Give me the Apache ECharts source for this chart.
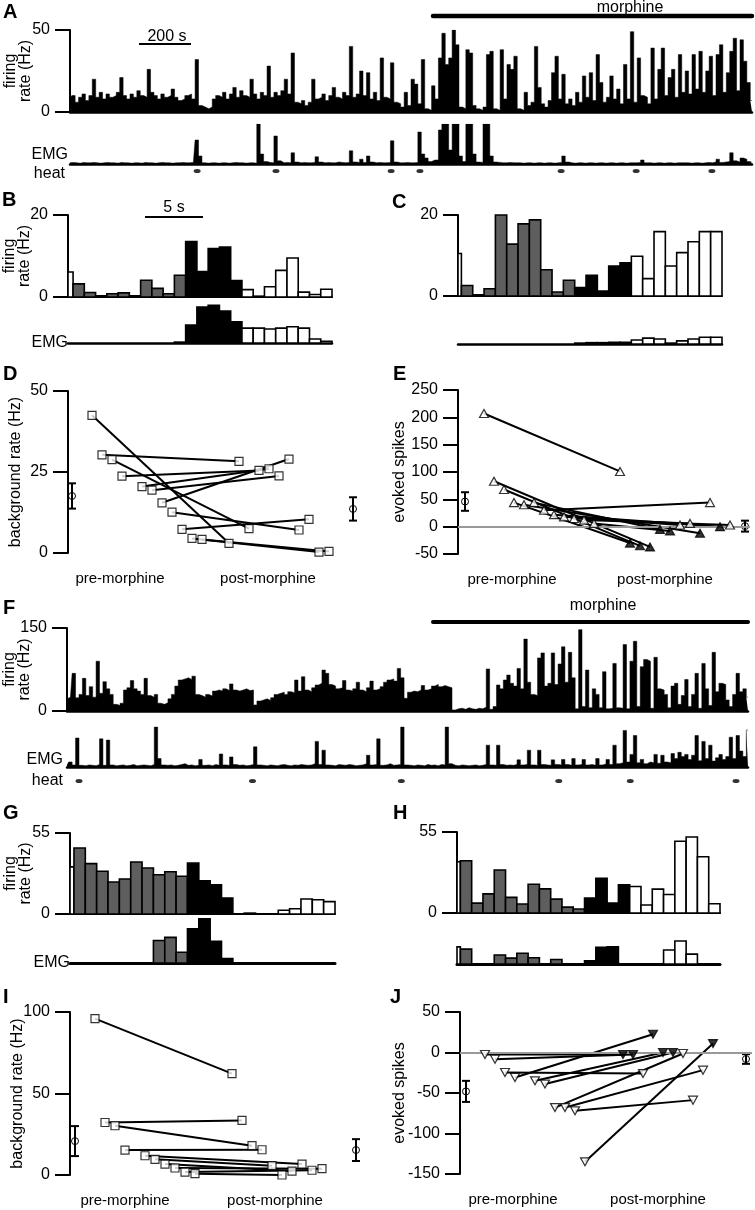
<!DOCTYPE html>
<html><head><meta charset="utf-8">
<script src="https://cdn.jsdelivr.net/npm/echarts@6.0.0/dist/echarts.min.js"></script>
<style>html,body{margin:0;padding:0;background:#fff}#c{width:755px;height:1210px}</style>
</head><body><div id="c"></div>
<script>
// ---------------- DATA ----------------
// Panel A: firing-rate trace (Hz), 200 bins
const aFiring = [
8,10,6,9,11,7,10,20,9,12,
8,11,9,10,12,21,10,8,11,9,
13,10,9,26,12,10,8,11,9,10,
14,9,7,8,10,11,8,32,4,3,
2,3,8,10,9,12,8,11,15,9,
13,10,9,20,11,8,12,10,28,9,
12,10,13,20,11,36,6,5,7,4,
6,20,8,9,11,7,10,15,9,8,
12,10,40,9,11,25,10,24,8,12,
7,33,9,8,30,6,5,3,12,4,
20,17,5,32,2,1,16,8,33,48,
29,33,50,41,3,2,38,36,4,2,
1,3,35,37,2,1,38,8,29,26,
34,2,1,12,4,6,40,15,5,3,
7,24,34,8,23,5,8,4,12,6,
22,9,24,7,35,18,6,9,22,8,
14,5,29,8,49,6,33,10,9,5,
39,8,26,39,10,21,26,9,35,12,
25,11,35,14,37,12,25,34,10,35,
41,12,24,37,45,13,44,31,18,7];
// Panel A: EMG (relative units, 0-100)
const aEmg = [
3,4,3,2,4,3,3,4,3,2,
3,4,3,3,2,4,3,3,2,3,
3,2,4,3,3,2,3,4,3,3,
2,3,3,4,3,3,4,60,20,3,
2,3,3,2,3,3,2,3,4,3,
3,2,3,3,2,100,25,6,4,3,
70,8,3,4,3,28,5,3,4,3,
3,4,18,5,3,4,3,3,5,4,
3,4,33,5,4,12,4,20,5,3,
4,3,3,4,58,5,3,3,4,3,
3,4,80,25,15,6,10,10,85,100,
100,35,100,100,20,6,100,100,25,5,
4,100,100,20,5,4,3,3,4,3,
3,3,2,3,3,2,3,3,2,3,
3,2,3,4,20,5,3,2,3,3,
2,3,3,2,3,3,2,3,3,2,
3,3,2,3,3,3,4,10,3,3,
2,3,3,2,3,3,2,3,3,3,
3,2,3,3,2,3,4,3,5,12,
4,5,6,28,8,5,15,12,6,4];
const aHeat = [37.1, 60.1, 93.7, 102.1, 143.3, 165.2, 187.3];   // heat stimuli (bin index)

// Panel B / C: peristimulus histograms (Hz) and EMG
const bFiring = [6.1,3.2,1.1,0.3,0.8,1.0,0.3,4.1,2.1,0.8,5.3,13.5,6.2,11.8,12.2,4.0,1.8,0.2,2.5,6.5,9.5,1.2,0.6,1.9];
const bEmg    = [0,0,0,0,0,0,0,0,0,0,2,40,80,84,71,47,33,33,31,33,36,33,9,4];
const bClass  = ['w','g','g','g','g','g','g','g','g','g','g','k','k','k','k','k','w','w','w','w','w','w','w','w'];
const cFiring = [10.5,2.6,0.3,1.8,20,12.8,17.8,18.8,6.5,1.0,3.9,2.1,5.1,1.2,7.4,8.2,9.8,4.3,15.9,7.4,10.7,13.4,15.9,15.9];
const cEmg    = [0,0,0,0,0,0,0,0,0,0,0,2,3,3,4,4,9,13,11,2,7,11,15,15];
const cClass  = ['w','g','g','g','g','g','g','g','g','g','g','k','k','k','k','k','w','w','w','w','w','w','w','w'];

// Panel D: background rate (Hz)
const dPre      = [42.5,30.3,28.8,23.7,20.5,19.4,15.5,12.6,7.3,4.5,4.2];
const dPreSlot  = [0,1,2,3,5,6,7,8,9,10,11];
const dPost     = [3.0,28.3,7.5,25.5,26.0,23.8,29.0,7.1,10.4,0.3,0.5];
const dPostSlot = [0,1,2,3,4,5,6,7,8,9,10];
const dMean = [17.6, 13.6];
const dSE   = [3.9, 3.6];

// Panel E: evoked spikes
const ePre      = [207,83,68,44,40,44,30,22,18,15,12,6];
const ePreSlot  = [0,1,2,3,4,5,6,7,8,9,10,11];
const ePost     = [101,-37,-35,-30,-12,-5,44,0,3,6,3,-8];
const ePostSlot = [0,3,2,1,8,4,9,10,6,7,11,5];
const ePostFilled = [0,1,1,1,1,1,0,1,0,0,0,1];
const eMean = [46, 1];
const eSE   = [17, 10];

// Panel F: firing-rate trace (Hz), 200 bins
const fFiring = [
22,25,68,24,30,59,28,44,25,90,
32,53,40,30,12,10,14,38,42,55,
40,36,30,59,28,25,30,14,12,15,
22,30,45,56,58,60,57,63,30,28,
25,30,27,36,38,36,40,37,49,38,
36,38,40,37,38,11,18,20,22,19,
24,30,32,34,30,35,33,56,36,62,
38,35,42,47,50,74,68,48,45,40,
42,55,38,36,40,52,38,35,42,54,
38,40,44,52,56,58,54,77,60,23,
34,36,35,38,46,38,40,45,48,44,
46,44,42,2,4,5,3,6,4,3,
5,4,7,76,3,8,47,40,56,65,
50,45,77,40,130,52,30,28,96,105,
45,50,105,48,85,116,52,106,60,4,
147,8,74,6,40,30,6,71,4,5,
86,6,5,120,4,90,126,8,80,93,
90,5,97,40,38,30,6,45,50,12,
28,57,8,30,68,5,86,40,10,106,
35,50,48,20,8,30,68,35,40,25];
const fEmg = [
4,12,5,69,4,3,5,4,3,6,
67,4,64,5,3,4,5,3,4,6,
3,4,5,4,3,6,95,20,5,4,
5,3,4,6,8,4,5,3,4,18,
4,5,3,6,4,31,5,4,24,6,
4,5,3,4,6,48,5,4,3,5,
4,3,5,6,4,3,5,4,6,5,
4,5,8,61,6,40,5,4,3,6,
5,4,6,5,3,4,5,8,28,5,
6,67,4,5,8,4,5,6,95,5,
4,3,5,4,3,6,4,5,3,6,
5,95,8,4,3,5,4,3,4,5,
3,4,6,52,5,4,52,6,4,5,
4,6,17,5,6,40,5,4,40,6,
5,4,17,6,5,18,6,4,20,5,
6,18,5,6,4,20,5,7,18,6,
52,8,10,87,12,30,75,10,18,8,
12,10,30,9,28,12,10,32,20,35,
25,30,18,28,75,15,61,20,52,14,
22,30,18,25,71,20,75,38,25,88];
const fHeat = [3.5, 54.2, 97.7, 143.7, 164.6, 195.5];

// Panel G / H
const gFiring = [32,44.8,34.2,29,21.7,23.8,35.3,31.2,26.7,28.7,25.6,34.6,22.6,19.9,10.9,0,0.6,0,0,2.5,3.6,10.2,9.7,8.4];
const gEmg    = [0,0,0,0,0,0,0,0,50,57,24,76,98,48,10,0,0,0,0,0,0,0,0,0];
const gClass  = ['w','g','g','g','g','g','g','g','g','g','g','k','k','k','k','w','w','w','w','w','w','w','w','w'];
const hFiring = [34.8,35.5,6.7,13,29.2,10.6,6.1,19.5,16.4,9.4,4.0,2.7,10.1,23.6,6.7,19.1,18,5.4,16.2,12.6,48.7,51.6,38.2,6.3];
const hEmg    = [38,33,0,0,20,13,24,14,0,10,0,0,7,37,38,0,0,0,0,31,51,22,0,0];
const hClass  = ['w','g','g','g','g','g','g','g','g','g','g','g','k','k','k','k','w','w','w','w','w','w','w','w'];

// Panel I
const iPre      = [95.9,32.2,30.2,15.3,11.8,9.6,6.7,4.3,1.8,0.8];
const iPreSlot  = [0,1,2,3,5,6,7,8,9,10];
const iPost     = [62.2,33.5,18,15.5,6.7,5.7,2.4,3.9,2.9,0];
const iPostSlot = [0,1,2,3,7,4,6,9,8,5];
const iMean = [20.8, 15.3];
const iSE   = [9.2, 6.7];

// Panel J
const jPre      = [-2.5,-8.2,-24.7,-30.9,-35,-39,-68,-68,-72,-135];
const jPreSlot  = [0,1,2,3,5,6,7,8,9,10];
const jPost     = [-2.5,-2.5,-26,22.6,0,0,-1.2,-21.8,-58.8,11];
const jPostSlot = [0,1,2,3,4,5,6,8,7,9];
const jPostFilled = [1,1,0,1,1,1,0,0,0,1];
const jMean = [-48, -8];
const jSE   = [13, 6];

const groupLabels = ['pre-morphine', 'post-morphine'];

// ---------------- BUILD ----------------
const FONT = "'Liberation Sans', Arial, sans-serif";
const FILL = {w:'#ffffff', g:'#5e5e5e', k:'#000000'};
const grid = [], xAxis = [], yAxis = [], series = [];

function addGrid(l, t, w, h){ grid.push({left:l, top:t, width:w, height:h, containLabel:false, outerBoundsMode:'none'}); return grid.length-1; }
function baseX(gi, min, max, w){ return {gridIndex:gi, type:'value', min, max, axisLine:{show:true, onZero:false, lineStyle:{color:'#000', width:w}}, axisTick:{show:false}, axisLabel:{show:false}, splitLine:{show:false}}; }
function hidAx(gi, min, max){ return {gridIndex:gi, type:'value', min, max, show:false, splitLine:{show:false}}; }
function valY(gi, min, max, interval, name, gap){
  return {gridIndex:gi, type:'value', min, max, interval,
    axisLine:{show:true, onZero:false, lineStyle:{color:'#000', width:2}},
    axisTick:{show:true, length:15, lineStyle:{color:'#000', width:2}},
    axisLabel:{color:'#000', fontSize:16, fontFamily:FONT, margin:20},
    splitLine:{show:false},
    name, nameLocation:'middle', nameGap:gap, nameRotate:90, nameMoveOverlap:false,
    nameTextStyle:{color:'#000', fontSize:16, fontFamily:FONT, lineHeight:15}};
}
function catX(gi, max, pos){
  return {gridIndex:gi, type:'value', min:0, max,
    axisLine:{show:false}, axisTick:{show:false}, splitLine:{show:false},
    axisLabel:{show:true, customValues:pos, formatter:(v)=>{const k=pos.indexOf(v); return k>=0?groupLabels[k]:'';},
      color:'#000', fontSize:15, fontFamily:FONT, margin:18}};
}
function trace(gi, vals, lw){
  series.push({type:'line', xAxisIndex:gi, yAxisIndex:gi, data:vals.map((v,i)=>[i,v]), symbol:'none', step:'middle',
    lineStyle:{color:'#000', width:lw}, areaStyle:{color:'#000', opacity:1}, silent:true, clip:true});
}
function hist(gi, vals, cls, xmin){
  series.push({type:'custom', xAxisIndex:gi, yAxisIndex:gi, data:vals.map((v,i)=>[i,v]), silent:true,
    renderItem:(p, api)=>{
      const i=api.value(0), v=api.value(1);
      if(!(v>0)) return null;
      const a=api.coord([Math.max(i,xmin), v]), b=api.coord([i+1, 0]);
      return {type:'rect', shape:{x:a[0], y:a[1], width:b[0]-a[0], height:b[1]-a[1]},
        style:{fill:FILL[cls[i]], stroke:'#000', lineWidth:1.6}};
    }});
}
function heat(gi, ts){
  series.push({type:'scatter', xAxisIndex:gi, yAxisIndex:gi, data:ts.map(t=>[t,0.5]), symbol:'circle', symbolSize:[7,4], itemStyle:{color:'#000'}, silent:true});
}
function pairs(gi, pre, preSlot, post, postSlot, preOff, postOff, sym, filled, size, rot){
  pre.forEach((v,n)=>{
    series.push({type:'line', xAxisIndex:gi, yAxisIndex:gi, data:[[preOff+preSlot[n], v],[postOff+postSlot[n], post[n]]],
      symbol:'none', lineStyle:{color:'#000', width:2}, silent:true, z:3});
  });
  series.push({type:'scatter', xAxisIndex:gi, yAxisIndex:gi, data:pre.map((v,n)=>[preOff+preSlot[n], v]),
    symbol:sym, symbolSize:size, symbolRotate:rot, itemStyle:{color:'#fff', borderColor:'#000', borderWidth:1.2}, z:5, silent:true});
  series.push({type:'scatter', xAxisIndex:gi, yAxisIndex:gi,
    data:post.map((v,n)=>({value:[postOff+postSlot[n], v], itemStyle:{color:(filled&&filled[n])?'#000':'#fff'}})),
    symbol:sym, symbolSize:size, symbolRotate:rot, itemStyle:{borderColor:'#000', borderWidth:1.2}, z:5, silent:true});
}
function errBars(gi, xs, means, ses){
  series.push({type:'custom', xAxisIndex:gi, yAxisIndex:gi, data:xs.map((x,n)=>[x, means[n], ses[n]]), silent:true, z:4,
    renderItem:(p, api)=>{
      const x=api.value(0), m=api.value(1), s=api.value(2);
      const t=api.coord([x,m+s]), b=api.coord([x,m-s]), c=api.coord([x,m]); const w=4;
      const st={stroke:'#000', lineWidth:2};
      return {type:'group', children:[
        {type:'line', shape:{x1:t[0],y1:t[1],x2:b[0],y2:b[1]}, style:st},
        {type:'line', shape:{x1:t[0]-w,y1:t[1],x2:t[0]+w,y2:t[1]}, style:st},
        {type:'line', shape:{x1:b[0]-w,y1:b[1],x2:b[0]+w,y2:b[1]}, style:st},
        {type:'circle', shape:{cx:c[0], cy:c[1], r:3.5}, style:{fill:'none', stroke:'#000', lineWidth:1}}
      ]};
    }});
}
function zeroLine(gi){
  series.push({type:'line', xAxisIndex:gi, yAxisIndex:gi, data:[], z:1, silent:true,
    markLine:{silent:true, symbol:'none', label:{show:false}, lineStyle:{color:'#999', width:2, type:'solid'}, data:[{yAxis:0}]}});
}

// Grids (index = axis index)
addGrid(70, 30, 682, 82);    // 0 A firing
addGrid(70, 124, 682, 40);   // 1 A EMG
addGrid(70, 166, 682, 10);   // 2 A heat
addGrid(68, 215, 264, 82);   // 3 B firing
addGrid(68, 298, 264, 45);   // 4 B EMG
addGrid(458, 215, 264, 81);  // 5 C firing
addGrid(458, 299, 264, 45);  // 6 C EMG
addGrid(68, 391, 300, 162);  // 7 D
addGrid(458, 390, 292, 164); // 8 E
addGrid(67, 628, 681, 83);   // 9 F firing
addGrid(67, 725, 681, 42);   // 10 F EMG
addGrid(67, 776, 681, 10);   // 11 F heat
addGrid(70, 833, 265, 81);   // 12 G firing
addGrid(70, 918, 265, 45);   // 13 G EMG
addGrid(457, 832, 263, 81);  // 14 H firing
addGrid(457, 919, 263, 45);  // 15 H EMG
addGrid(70, 1012, 300, 163); // 16 I
addGrid(460, 1012, 292, 162);// 17 J

xAxis.push(baseX(0,0,199,2.5));  yAxis.push(valY(0,0,50,50,'firing\nrate (Hz)',37));
xAxis.push(baseX(1,0,199,2.5));  yAxis.push(hidAx(1,0,100));
xAxis.push(hidAx(2,0,199));      yAxis.push(hidAx(2,0,1));
xAxis.push(baseX(3,0.55,24,2));  yAxis.push(valY(3,0,20,20,'firing\nrate (Hz)',36));
xAxis.push(baseX(4,0.55,24,2.5));yAxis.push(hidAx(4,0,100));
xAxis.push(baseX(5,0.7,24,2));   yAxis.push(valY(5,0,20,20,'',0));
xAxis.push(baseX(6,0.7,24,2.5)); yAxis.push(hidAx(6,0,100));
xAxis.push(catX(7,30,[5.2,20]));   yAxis.push(valY(7,0,50,25,'background rate (Hz)',45));
xAxis.push(catX(8,29.2,[5.4,20.7])); yAxis.push(valY(8,-50,250,50,'evoked spikes',51));
xAxis.push(baseX(9,0,199,2.5));  yAxis.push(valY(9,0,150,150,'firing\nrate (Hz)',35));
xAxis.push(baseX(10,0,199,2.5)); yAxis.push(hidAx(10,0,100));
xAxis.push(hidAx(11,0,199));     yAxis.push(hidAx(11,0,1));
xAxis.push(baseX(12,0.65,24,2)); yAxis.push(valY(12,0,55,55,'firing\nrate (Hz)',37));
xAxis.push(baseX(13,0.65,24,3)); yAxis.push(hidAx(13,0,100));
xAxis.push(baseX(14,0.7,24,2));  yAxis.push(valY(14,0,55,55,'',0));
xAxis.push(baseX(15,0.7,24,3));  yAxis.push(hidAx(15,0,100));
xAxis.push(catX(16,30,[5.5,20.5])); yAxis.push(valY(16,0,100,50,'background rate (Hz)',45));
xAxis.push(catX(17,29.2,[5.3,19.8])); yAxis.push(valY(17,-150,50,50,'evoked spikes',53));

// Series
trace(0, aFiring, 0.5); trace(1, aEmg, 0.5); heat(2, aHeat);
hist(3, bFiring, bClass, 0.55); hist(4, bEmg, bClass, 0.55);
hist(5, cFiring, cClass, 0.7);  hist(6, cEmg, cClass, 0.7);
pairs(7, dPre, dPreSlot, dPost, dPostSlot, 2.4, 16.1, 'rect', null, 8, 0);
errBars(7, [0.4, 28.5], dMean, dSE);
zeroLine(8);
pairs(8, ePre, ePreSlot, ePost, ePostSlot, 2.6, 16.2, 'triangle', ePostFilled, [9,8], 0);
errBars(8, [0.7, 28.7], eMean, eSE);
trace(9, fFiring, 0.5); trace(10, fEmg, 0.5); heat(11, fHeat);
hist(12, gFiring, gClass, 0.65); hist(13, gEmg, gClass, 0.65);
hist(14, hFiring, hClass, 0.7);  hist(15, hEmg, hClass, 0.7);
pairs(16, iPre, iPreSlot, iPost, iPostSlot, 2.5, 16.2, 'rect', null, 8, 0);
errBars(16, [0.5, 28.6], iMean, iSE);
zeroLine(17);
pairs(17, jPre, jPreSlot, jPost, jPostSlot, 2.5, 16.3, 'triangle', jPostFilled, [9,8], 180);
errBars(17, [0.6, 28.6], jMean, jSE);

// Annotations
function txt(text, x, y, size, align, bold){
  return {type:'text', x, y, silent:true, z:10, style:{text, fill:'#000', fontSize:size, fontFamily:FONT, fontWeight:bold?'bold':'normal', align:align, verticalAlign:'middle'}};
}
function seg(x1, y1, x2, y2, w, cap){
  return {type:'line', silent:true, z:10, shape:{x1,y1,x2,y2}, style:{stroke:'#000', lineWidth:w, lineCap:cap||'butt'}};
}
const graphic = [
  txt('A',3,12,20,'left',true), txt('B',2,200,20,'left',true), txt('C',392,202,20,'left',true),
  txt('D',3,374,20,'left',true), txt('E',393,374,20,'left',true), txt('F',3,608,20,'left',true),
  txt('G',3,813,20,'left',true), txt('H',393,813,20,'left',true), txt('I',3,997,20,'left',true),
  txt('J',390,997,20,'left',true),
  txt('EMG',68,155,16,'right'), txt('heat',65,174,16,'right'),
  txt('EMG',68,343,16,'right'), txt('EMG',63,760,16,'right'), txt('heat',63,781,16,'right'),
  txt('EMG',70,963,16,'right'),
  txt('morphine',630,8,16,'center'), txt('morphine',603,606,16,'center'),
  seg(433,16,752,16,4.5,'round'), seg(433,622,748,622,4,'round'),
  txt('200 s',167,37,16,'center'), seg(139,44,191,44,2),
  txt('5 s',174,208,16,'center'), seg(145,217,203,217,2)
];

const chart = echarts.init(document.getElementById('c'), null, {renderer:'canvas'});
chart.setOption({animation:false, backgroundColor:'#fff', grid, xAxis, yAxis, series, graphic});
</script></body></html>
